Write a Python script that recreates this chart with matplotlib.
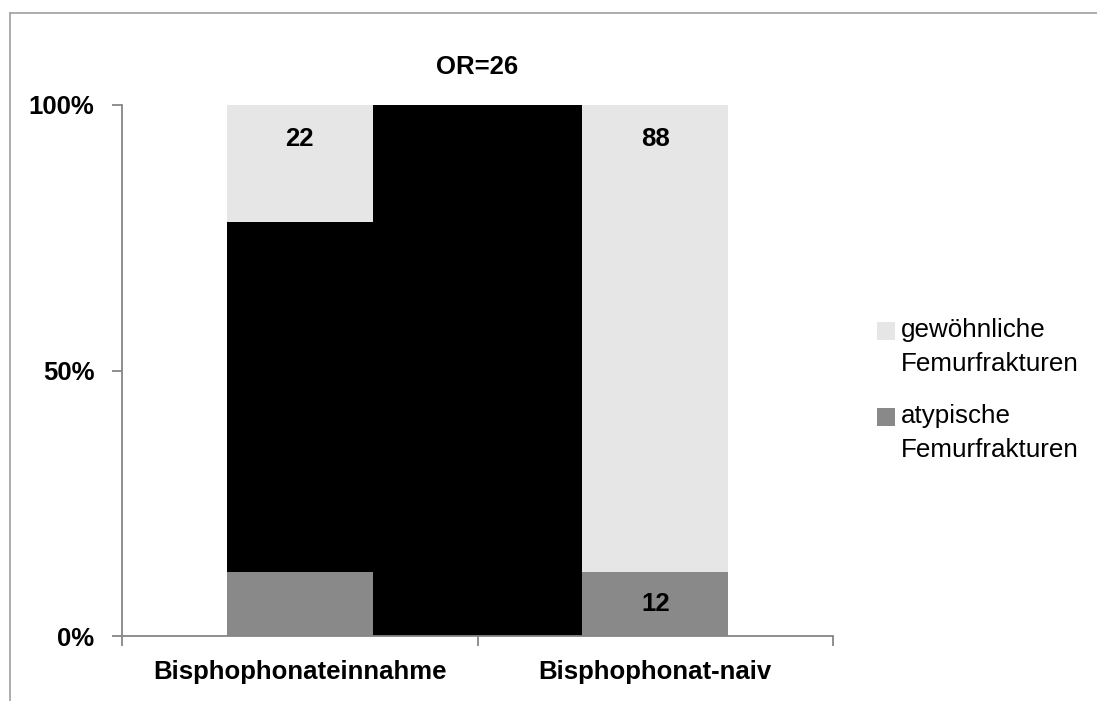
import matplotlib
matplotlib.use('Agg')
import matplotlib.pyplot as plt
from matplotlib import font_manager
from matplotlib.patches import Rectangle
from matplotlib.lines import Line2D

# data (percent of each group)
groups = ['Bisphophonateinnahme', 'Bisphophonat-naiv']
atypical = [12, 12]          # atypische Femurfrakturen
blacked = [66, 0]            # geschwärzter Bereich im Balken
common = [22, 88]            # gewöhnliche Femurfrakturen
label_common = ['22', '88']
label_atypical = ['', '12']
series_names = ['gewöhnliche\nFemurfrakturen', 'atypische\nFemurfrakturen']
title = 'OR=26'
yticks = [0, 50, 100]
ytick_labels = ['0%', '50%', '100%']

c_light = '#e6e6e6'
c_dark = '#898989'
c_axis = '#868686'

names = {f.name for f in font_manager.fontManager.ttflist}
if 'Liberation Sans Narrow' in names:
    bold_font, bold_size = 'Liberation Sans Narrow', 22
else:
    bold_font, bold_size = 'Liberation Sans', 18.5
reg_font = 'Liberation Sans'

W, H = 1097, 701
fig = plt.figure(figsize=(W / 100, H / 100), dpi=100)
ax = fig.add_axes([122 / W, 1 - 636 / H, (833 - 122) / W, (636 - 105) / H])

x = [0, 1]
bw = 0.41
ax.bar(x, atypical, width=bw, color=c_dark, linewidth=0)
ax.bar(x, blacked, width=bw, bottom=atypical, color='black', linewidth=0)
bottoms = [a + b for a, b in zip(atypical, blacked)]
ax.bar(x, common, width=bw, bottom=bottoms, color=c_light, linewidth=0)
# black block between the two bars
ax.bar([0.5], [100], width=1 - bw, color='black', linewidth=0)

for i in range(2):
    top = bottoms[i] + common[i]
    ax.text(x[i], top - 6.4, label_common[i], ha='center', va='center',
            fontsize=bold_size, fontweight='bold', family=bold_font)
    if label_atypical[i]:
        ax.text(x[i], atypical[i] / 2, label_atypical[i], ha='center', va='center',
                fontsize=bold_size, fontweight='bold', family=bold_font)

ax.set_xlim(-0.5, 1.5)
ax.set_ylim(0, 100)
for s in ['top', 'right']:
    ax.spines[s].set_visible(False)
for s in ['left', 'bottom']:
    ax.spines[s].set_color(c_axis)
    ax.spines[s].set_linewidth(1.3)

ax.set_yticks(yticks)
ax.set_yticklabels(ytick_labels, fontsize=bold_size, fontweight='bold', family=bold_font)
ax.tick_params(axis='y', length=7, width=1.3, color=c_axis, pad=13)

ax.set_xticks(x)
ax.set_xticklabels(groups, fontsize=bold_size, fontweight='bold', family=bold_font)
ax.set_xticks([-0.5, 0.5, 1.5], minor=True)
ax.tick_params(axis='x', which='major', length=0, pad=17)
ax.tick_params(axis='x', which='minor', length=7, width=1.3, color=c_axis)

fig.text((122 + 833) / 2 / W, 1 - 67 / H, title, ha='center', va='center',
         fontsize=bold_size, fontweight='bold', family=bold_font)

# legend drawn by hand (square next to the first line of each entry)
leg_y = [332, 418]
leg_colors = [c_light, c_dark]
sq = 18
for name, yc, col in zip(series_names, leg_y, leg_colors):
    fig.patches.append(Rectangle((877 / W, 1 - (yc - 1 + sq / 2) / H), sq / W, sq / H,
                                 transform=fig.transFigure, facecolor=col,
                                 edgecolor='none'))
    fig.text(901 / W, 1 - (yc - 14) / H, name, ha='left', va='top',
             fontsize=18.7, family=reg_font, linespacing=1.55)

# outer frame of the chart area
fig.add_artist(Line2D([10 / W, 1.01], [1 - 13 / H, 1 - 13 / H], color='#a6a6a6', lw=1.3))
fig.add_artist(Line2D([10 / W, 10 / W], [-0.01, 1 - 13 / H], color='#a6a6a6', lw=1.3))

fig.savefig('out.png', dpi=100)
